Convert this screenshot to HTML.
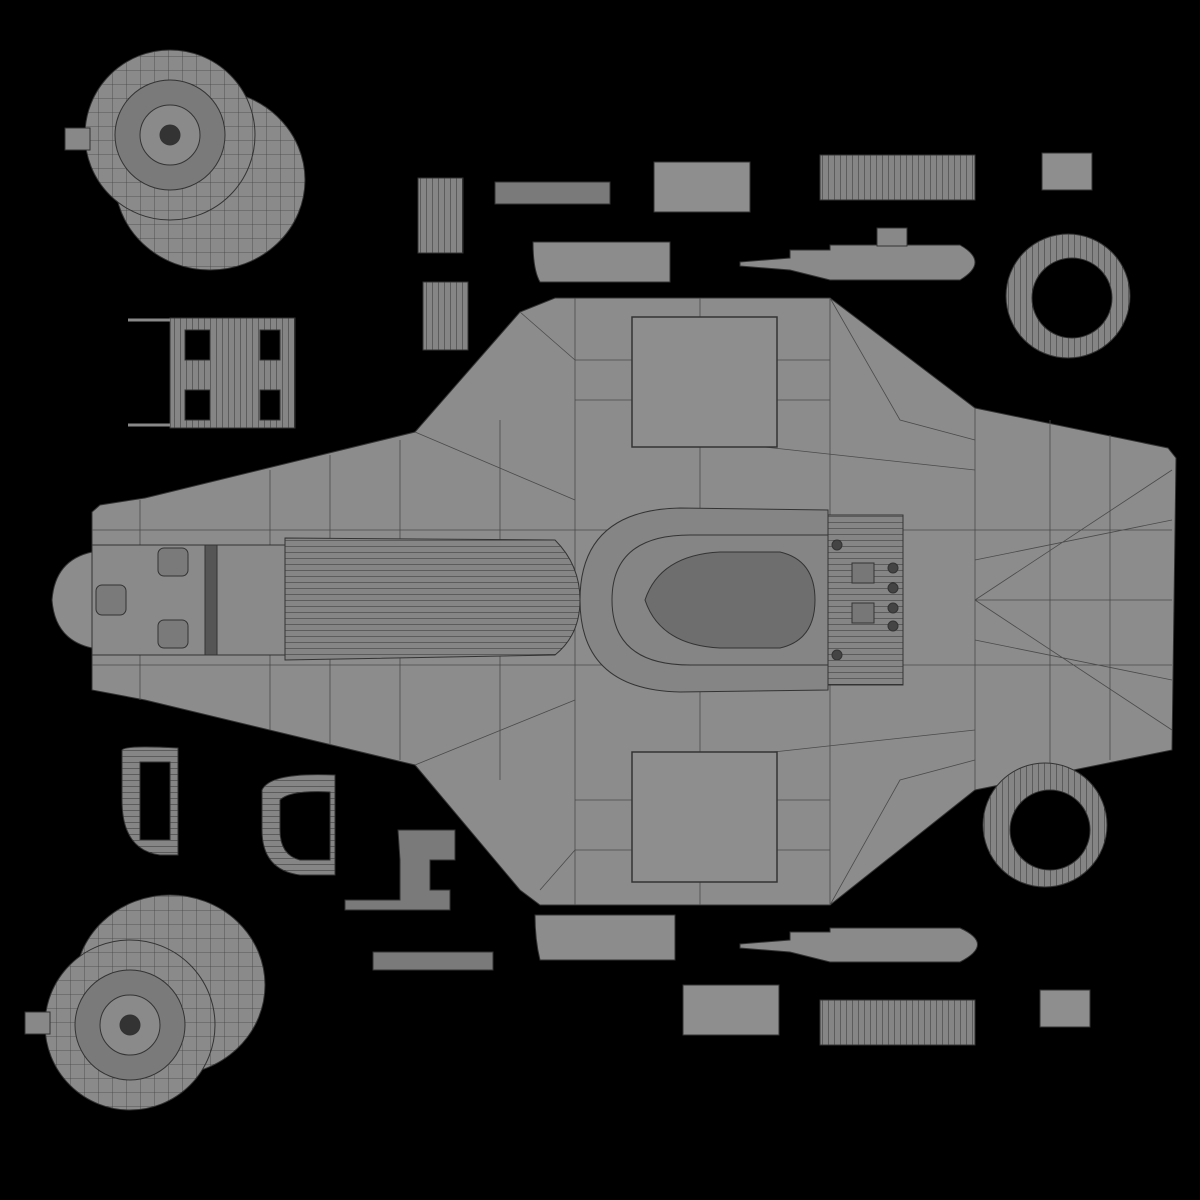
<!DOCTYPE html>
<html><head><style>html,body{margin:0;background:#000;width:1200px;height:1200px;overflow:hidden}</style></head>
<body>
<svg width="1200" height="1200" viewBox="0 0 1200 1200" xmlns="http://www.w3.org/2000/svg">
<rect width="1200" height="1200" fill="#000"/>
<defs>
<pattern id="g" width="14" height="14" patternUnits="userSpaceOnUse"><rect width="14" height="14" fill="#8a8a8a"/><path d="M0 0H14M0 0V14" stroke="#444" stroke-width="0.8"/></pattern>
<pattern id="v" width="6" height="20" patternUnits="userSpaceOnUse"><rect width="6" height="20" fill="#858585"/><path d="M0 0V20" stroke="#333" stroke-width="1"/></pattern>
<pattern id="h" width="20" height="6" patternUnits="userSpaceOnUse"><rect width="20" height="6" fill="#858585"/><path d="M0 0H20" stroke="#333" stroke-width="1"/></pattern>
</defs>
<g stroke="#333" stroke-width="1">
<!-- main hull -->
<path d="M92 512 L100 505 L145 498 L415 432 L520 312 L555 298 L830 298 L975 408 L1168 448 L1176 458 L1172 750 L975 790 L830 905 L540 905 L520 890 L415 765 L145 700 L92 690 Z" fill="#8c8c8c"/>
<path d="M92 648 Q55 640 52 600 Q55 560 92 552 Z" fill="#8c8c8c"/>
<g fill="none" stroke="#4a4a4a" stroke-width="0.8">
<path d="M140 500V700M270 470V730M330 455V745M400 440V760M500 420V780M575 298V905M700 298V905M830 298V905M975 408V790M1050 420V775M1110 435V760"/>
<path d="M92 530H1172M92 665H1172M415 432L575 500M415 765L575 700M520 312L575 360M540 890L575 850M830 298L900 420L975 440M830 905L900 780L975 760M975 600L1172 470M975 600L1172 730M975 600H1172M975 560L1172 520M975 640L1172 680"/>
<path d="M575 360H830M575 400H830M575 800H830M575 850H830M700 440L975 470M700 760L975 730"/>
</g>
<!-- central spine -->
<rect x="92" y="545" width="195" height="110" fill="#8a8a8a"/>
<path d="M285 538 L555 540 Q580 565 580 600 Q580 635 555 655 L285 660 Z" fill="url(#h)"/>
<rect x="205" y="545" width="12" height="110" fill="#555"/>
<rect x="158" y="548" width="30" height="28" rx="6" fill="#7a7a7a"/>
<rect x="158" y="620" width="30" height="28" rx="6" fill="#7a7a7a"/>
<rect x="96" y="585" width="30" height="30" rx="6" fill="#7a7a7a"/>
<path d="M580 600 Q580 510 680 508 L828 510 V690 L680 692 Q580 690 580 600Z" fill="#858585"/>
<path d="M612 600 Q612 535 690 535 L828 535 M612 600 Q612 665 690 665 L828 665" fill="none"/>
<path d="M645 600 Q660 555 720 552 H780 Q815 560 815 600 Q815 640 780 648 H720 Q660 645 645 600Z" fill="#6e6e6e"/>
<rect x="828" y="515" width="75" height="170" fill="url(#h)"/>
<rect x="852" y="563" width="22" height="20" fill="#777"/><rect x="852" y="603" width="22" height="20" fill="#777"/>
<g fill="#444"><circle cx="837" cy="545" r="5"/><circle cx="837" cy="655" r="5"/><circle cx="893" cy="568" r="5"/><circle cx="893" cy="588" r="5"/><circle cx="893" cy="608" r="5"/><circle cx="893" cy="626" r="5"/></g>
<!-- wing panels -->
<rect x="632" y="317" width="145" height="130" fill="#8e8e8e" stroke-width="1.5"/>
<rect x="632" y="752" width="145" height="130" fill="#8e8e8e" stroke-width="1.5"/>
<!-- engines -->
<ellipse cx="210" cy="180" rx="95" ry="90" fill="url(#g)"/>
<circle cx="170" cy="135" r="85" fill="url(#g)"/>
<circle cx="170" cy="135" r="55" fill="#7a7a7a"/><circle cx="170" cy="135" r="30" fill="#8a8a8a"/><circle cx="170" cy="135" r="10" fill="#333"/>
<rect x="65" y="128" width="25" height="22" fill="#888"/>
<ellipse cx="170" cy="985" rx="95" ry="90" fill="url(#g)"/>
<circle cx="130" cy="1025" r="85" fill="url(#g)"/>
<circle cx="130" cy="1025" r="55" fill="#7a7a7a"/><circle cx="130" cy="1025" r="30" fill="#8a8a8a"/><circle cx="130" cy="1025" r="10" fill="#333"/>
<rect x="25" y="1012" width="25" height="22" fill="#888"/>
<!-- tire rings -->
<circle cx="1068" cy="296" r="62" fill="url(#v)"/><circle cx="1072" cy="298" r="40" fill="#000"/>
<circle cx="1045" cy="825" r="62" fill="url(#v)"/><circle cx="1050" cy="830" r="40" fill="#000"/>
<!-- left drum -->
<rect x="170" y="318" width="125" height="110" fill="url(#v)"/>
<rect x="185" y="330" width="25" height="30" fill="#000"/><rect x="185" y="390" width="25" height="30" fill="#000"/>
<rect x="260" y="330" width="20" height="30" fill="#000"/><rect x="260" y="390" width="20" height="30" fill="#000"/>
<path d="M128 320H170M128 425H170" stroke="#888" stroke-width="3"/>
<!-- small parts -->
<rect x="418" y="178" width="45" height="75" fill="url(#v)"/>
<rect x="423" y="282" width="45" height="68" fill="url(#v)"/>
<rect x="495" y="182" width="115" height="22" fill="#7a7a7a"/>
<rect x="654" y="162" width="96" height="50" fill="#8e8e8e"/>
<rect x="1042" y="153" width="50" height="37" fill="#8e8e8e"/>
<rect x="820" y="155" width="155" height="45" fill="url(#v)"/>
<path d="M533 242H670V282H540Q533 270 533 242Z" fill="#8c8c8c"/>
<path d="M740 262L790 258V250H830V245H960Q990 262 960 280H830L790 270L740 266Z" fill="#8a8a8a"/>
<rect x="877" y="228" width="30" height="18" fill="#888"/>
<path d="M535 915H675V960H540Q535 940 535 915Z" fill="#8c8c8c"/>
<path d="M740 944L790 940V932H830V928H960Q995 944 960 962H830L790 952L740 948Z" fill="#8a8a8a"/>
<rect x="683" y="985" width="96" height="50" fill="#8e8e8e"/>
<rect x="1040" y="990" width="50" height="37" fill="#8e8e8e"/>
<rect x="820" y="1000" width="155" height="45" fill="url(#v)"/>
<rect x="373" y="952" width="120" height="18" fill="#7a7a7a"/>
<path d="M122 750Q125 745 178 748V855H160Q122 850 122 800Z" fill="url(#h)"/><path d="M140 762H170V840H140Z" fill="#000"/>
<path d="M262 790Q270 772 335 775V875H300Q262 870 262 830Z" fill="url(#h)"/><path d="M280 800Q290 790 330 792V860H300Q280 855 280 830Z" fill="#000"/>
<path d="M398 830H455V860H430V890H450V910H345V900H400V860Z" fill="#7a7a7a"/>
</g>
</svg>
</body></html>
